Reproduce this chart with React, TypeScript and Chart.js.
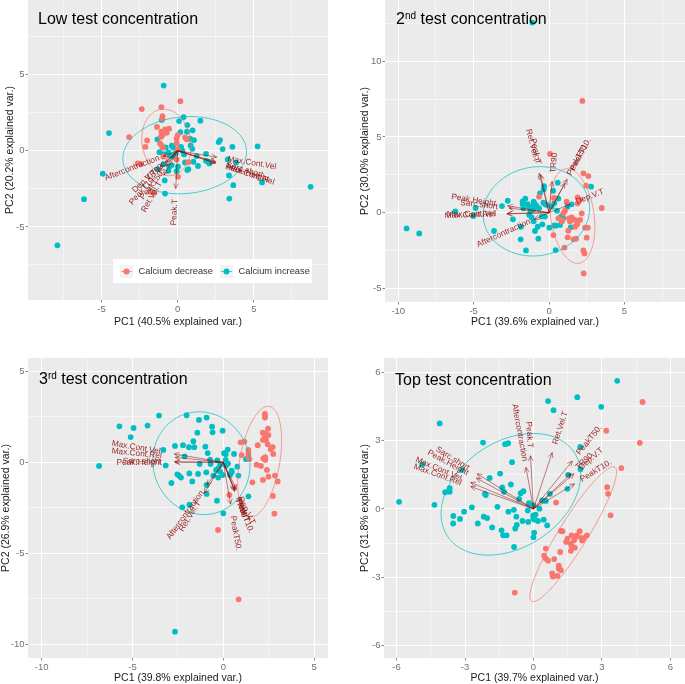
import React, { useEffect, useRef } from "react";
import { Chart, registerables } from "chart.js";

Chart.register(...registerables);

type Pair = [number, number];
type Arrow = [string, number, number];
type Ell = [number, number, number, number, number]; // cx, cy, semi-major, semi-minor, angle in degrees

const seriesNames = ["Calcium decrease", "Calcium increase"];
const RED = "#F8766D";
const TEAL = "#00BFC4";

// ---------- Low test concentration
const lowDecrease: Pair[] = [[0.18,3.25],[-2.36,2.74],[-1.07,2.87],[-1,2.28],[-1,2.08],[-1.36,1.56],[-0.83,1.4],[-0.57,1.45],[-1.07,1.25],[-0.72,1.18],[-3.19,0.9],[-1.09,0.92],[-1,1.03],[0,1.03],[-0.07,0.81],[0.48,0.88],[0.59,0.75],[-2.01,0.68],[-2.12,0.26],[-1.16,0.48],[-1.05,0.33],[-0.98,0.2],[-0.07,0.48],[0,0.09],[-0.07,-0.57],[0.7,-0.75],[-2.63,-0.83],[-2.43,-0.86],[0.02,-1.71],[-1.82,-2.68],[-1.64,-2.72],[-1.53,-2.76],[-0.94,-0.39]];
const lowIncrease: Pair[] = [[-0.92,4.28],[0.39,2.21],[1.49,1.97],[0.09,1.95],[-1.05,2.02],[0.63,1.69],[-4.51,1.16],[0.98,1.34],[0.18,1.23],[0.61,1.25],[-1.33,0.75],[0.81,0.79],[1.07,0.7],[2.78,0.7],[2.69,0.57],[3.59,0.26],[5.25,0.29],[2.95,0.11],[0.85,0.35],[0.96,0.13],[-0.39,0.33],[-0.79,0.22],[-0.28,0.2],[0.22,0.26],[0.31,0],[-1.2,-0.09],[-0.94,-0.22],[-0.61,-0.11],[-0.5,-0.29],[-0.39,-0.35],[-0.28,-0.39],[-0.13,-0.18],[0.42,-0.24],[1.25,-0.35],[1.86,-0.2],[1.86,-0.66],[2.01,-0.72],[2.08,-0.83],[0.48,-0.77],[1.03,-0.72],[3.28,-0.57],[3.83,-0.77],[1.33,-1],[-0.94,-0.88],[-1.33,-1.21],[-0.55,-1.05],[-0.39,-0.94],[0.02,-1.05],[-0.61,-1.32],[-0.07,-1.34],[0.63,-1.27],[0.7,-1.21],[3.37,-1.62],[-0.85,-1.95],[3.65,-2.26],[5.54,-2.08],[-0.83,-2.81],[3.39,-3.14],[8.73,-2.37],[-4.92,-1.51],[-6.15,-3.18],[-7.9,-6.21]];
const lowArrows: Arrow[] = [["Max.Cont.Vel",2.56,-0.42],["Max.Cont.Rel",2.5,-0.82],["Sarc.short",2.5,-0.72],["Peak.Height",2.45,-0.78],["Aftercontraction",-0.95,-0.36],["Dep.V.T",-1.15,-1.05],["TR90",-0.8,-0.75],["PeakT10.",-1.2,-1.35],["PeakT50.",-0.75,-1.0],["Ret.Vel.T",-0.9,-1.6],["Peak.T",-0.13,-2.48]];
const lowEllipses: Ell[] = [[-0.74,0.55,2.2,1.6,100],[0.46,-0.29,4.07,2.52,5]];
const lowXTicks = [-5, 0, 5];
const lowYTicks = [-5, 0, 5];

// ---------- 2nd test concentration
const secondDecrease: Pair[] = [[2.21,7.38],[0.07,3.88],[2.28,2.6],[2.61,2.42],[2.46,1.78],[-0.66,1.06],[0.33,0.97],[1.9,1.01],[2.04,0.84],[1.17,0.73],[3.5,0.31],[1.9,0.62],[1.06,0.13],[0.95,-0.04],[2.17,-0.04],[0.29,-1.48],[0.62,-0.37],[0.84,-0.59],[1.33,-0.37],[1.5,-0.31],[1.73,-0.48],[2.06,-0.48],[1.28,-1.19],[1.88,-0.75],[1.73,-0.93],[2.39,-0.99],[2.57,-0.99],[1.24,-1.63],[1.62,-1.76],[1.79,-1.72],[2.5,-1.65],[1.02,-2.31],[2.28,-2.49],[2.35,-2.69],[2.3,-4.01],[0.88,-0.48],[1.39,-0.59]];
const secondIncrease: Pair[] = [[-1.11,12.56],[-9.45,-1.04],[-8.61,-1.37],[-6.22,0.09],[-4.87,0.31],[-5.02,-0.22],[-3.65,-1.21],[-3.12,0.44],[-2.74,0.79],[-2.39,-0.44],[-1.86,-0.93],[-1.88,-1.76],[-1.53,-2.49],[-1.75,0.75],[-1.75,0.57],[-1.57,0.93],[-1.7,0.29],[-1.42,0.57],[-1.33,0.4],[-1.15,0.4],[-1.24,0.13],[-1.02,0.73],[-0.93,0.57],[-0.82,0.44],[-1.04,0.22],[-0.66,0.29],[-1.31,-0.15],[-1.15,-0.31],[-1.02,-0.57],[-0.93,-1.21],[-0.75,-0.93],[-0.71,-1.72],[-0.44,-0.77],[-0.33,1.76],[-0.35,1.54],[-0.6,1.28],[-0.38,0.66],[-0.27,0.57],[-0.15,0.51],[0.18,0.4],[0.35,0.62],[0.58,1.98],[0.27,1.45],[0.62,0.93],[-0.27,-0.26],[-0.49,-0.26],[0.02,-0.99],[0.35,-0.84],[0.44,-2.47],[0.53,0.13],[1.22,0.4],[1.5,0.55],[0.8,-0.26],[0.95,-0.37],[0.73,-0.81],[0.44,-0.86],[1.44,-0.97],[2.79,1.72]];
const secondArrows: Arrow[] = [["Ret.Vel.T",-0.65,2.6],["Peak.T",-0.55,2.5],["TR90",0.2,2.05],["PeakT10.",1.2,2.2],["PeakT50.",1.05,1.95],["Dep.V.T",1.4,0.55],["Peak.Height",-2.75,0.45],["Sarc.short",-2.65,0.3],["Max.Cont.Vel",-2.75,-0.05],["Max.Cont.Rel",-2.8,-0.08],["Aftercontraction",-0.98,-0.44]];
const secondEllipses: Ell[] = [[1.55,-0.22,3.15,1.44,98],[-0.84,0.09,3.55,2.93,10]];
const secondXTicks = [-10, -5, 0, 5];
const secondYTicks = [-5, 0, 5, 10];

// ---------- 3rd test concentration
const thirdDecrease: Pair[] = [[0.84,-7.54],[-0.29,-3.72],[2.81,-2.83],[2.73,-1.85],[0.33,-1.8],[1.6,-1.1],[2.99,-1.05],[2.84,-0.73],[2.18,-0.97],[2.48,-0.79],[2.4,-0.42],[1.83,-0.13],[2.07,-0.2],[2.31,0.13],[2.2,0.22],[2.31,0.29],[2.75,0.46],[0.95,1.1],[1.16,1.14],[1.01,0.4],[1.38,0.68],[1.38,0.5],[1.38,0.31],[1.43,0.18],[1.89,0.94],[2.61,0.72],[2.72,0.84],[2.44,0.99],[2.18,1.23],[2.35,1.23],[2.29,1.41],[2.48,1.5],[2.17,1.63],[2.33,1.58],[2.46,1.85],[2.29,2.66],[2.29,2.55],[2.29,2.46]];
const thirdIncrease: Pair[] = [[-6.84,-0.2],[-5.72,1.98],[-4.94,1.89],[-4.17,2.02],[-5.1,1.39],[-3.54,2.57],[-2.02,2.59],[-1.34,2.33],[-0.92,2.46],[-0.62,1.96],[-0.59,1.65],[-0.04,1.74],[-1.43,1.63],[-1.65,1.16],[-3.3,0.68],[-2.66,0.9],[-2.22,0.94],[-1.89,0.83],[-1.6,0.83],[-0.99,0.86],[-0.86,0.51],[-2.13,0.33],[-3.17,-0.17],[-1.3,-0.09],[-0.73,0.15],[-0.7,-0.09],[-0.33,0.11],[0.24,0.7],[0.04,0.5],[0.13,0.44],[0.59,0.46],[0.13,0.13],[0.26,-0.07],[0.15,-0.18],[0.77,-0.24],[-0.18,-0.15],[-0.28,-0.33],[-0.4,-0.42],[-0.18,-0.51],[0.46,-0.46],[0.46,-0.55],[-0.04,-0.7],[-0.28,-0.84],[0.37,-0.7],[0.83,-0.73],[-2.53,-0.66],[-2.44,-0.73],[-2.33,-0.84],[-2.86,-1.14],[-1.87,-0.61],[-1.39,-0.64],[-0.94,-0.55],[-1.71,-1.05],[-0.55,-0.73],[-0.92,-1.25],[-0.92,-1.74],[-0.35,-2.11],[-2.26,-2.48],[-1.87,-2.33],[0,-2.81],[1.38,-1.87],[1.25,0.17],[-2.66,-9.32]];
const thirdArrows: Arrow[] = [["Max.Cont.Vel",-2.7,0.46],["Max.Cont.Rel",-2.65,0.27],["Sarc.short",-2.7,0.03],["Peak.Height",-2.65,0],["Aftercontraction",-0.9,-1.25],["Ret.Vel.T",-1.05,-1.7],["PeakT50.",0.4,-2.3],["PeakT10.",0.64,-1.6],["Dep.V.T",0.72,-1.5],["TR90",0.6,-1.55],["Peak.T",0.62,-1.5]];
const thirdEllipses: Ell[] = [[2.0,0.04,3.08,1.1,80],[-1.21,-0.05,2.85,2.65,110]];
const thirdXTicks = [-10, -5, 0, 5];
const thirdYTicks = [-10, -5, 0, 5];

// ---------- Top test concentration
const topDecrease: Pair[] = [[4.78,4.69],[4.66,2.9],[3.19,3.43],[3.85,1.79],[3.23,0.95],[3.27,0.66],[3.38,-0.28],[0.99,0.28],[1.2,-0.97],[1.27,-0.98],[2.02,-0.98],[2.34,-1.16],[1.67,-1.16],[1.9,-1.16],[2.11,-1.27],[2.19,-1.3],[1.86,-1.23],[2.13,-1.39],[1.49,-1.3],[1.43,-1.45],[1.78,-1.38],[1.64,-1.54],[1.67,-1.63],[1.81,-1.7],[1.64,-1.84],[0.54,-1.74],[1.17,-1.89],[0.47,-2.05],[0.54,-2.18],[0.64,-2.27],[0.91,-2.2],[1.11,-2.49],[1.11,-2.62],[1.2,-2.69],[0.82,-2.83],[0.85,-2.97],[1.05,-2.94],[-0.82,-3.67]];
const topIncrease: Pair[] = [[3.67,5.62],[1.92,4.9],[0.64,4.73],[0.88,4.33],[2.97,4.48],[-4.11,3.75],[-2.21,2.91],[-1.24,2.84],[-1.11,2.88],[2.05,2.72],[-4.88,1.95],[-3.13,1.71],[-0.94,2.05],[2.06,1.74],[1.52,1.49],[1.49,0.88],[-1.46,1.55],[-1.92,1.36],[-0.99,1.07],[-1.37,0.94],[-1.29,0.75],[-3.67,0.91],[-3.67,0.75],[-3.87,0.73],[-2.13,0.66],[-2.09,0.61],[-0.44,0.78],[-0.56,0.69],[-0.63,0.44],[0.72,0.66],[0.38,0.37],[0.54,0.35],[-0.2,0.25],[-0.01,0.16],[0.26,0.01],[-5.89,0.31],[-4.34,0.18],[-2.7,0.07],[-1.58,0.09],[-3.04,-0.12],[-3.51,-0.31],[-3.22,-0.44],[-3.52,-0.64],[-2.18,-0.34],[-2.03,-0.4],[-2.44,-0.64],[-1.81,-0.81],[-1.1,-0.12],[-0.86,-0.04],[-0.75,-0.34],[-0.48,-0.53],[-0.23,-0.57],[-0.25,-0.07],[-0.01,-0.28],[0.09,-0.25],[-0.01,-0.42],[0.06,-0.47],[0.2,-0.53],[0.45,-0.47],[0.6,-0.72],[-0.73,-0.7],[-0.8,-0.86],[-1.4,-0.94],[-1.33,-1.16],[-1.18,-1.16],[0.03,-1.04],[0,-1.24],[-0.85,-1.67]];
const topArrows: Arrow[] = [["Aftercontraction",-0.33,1.82],["Peak.T",-0.13,2.33],["Ret.Vel.T",0.82,2.47],["PeakT50.",1.7,2.1],["TR90",1.65,1.55],["Dep.V.T",1.77,1.54],["PeakT10.",1.8,1.1],["Sarc.short",-2.47,1.54],["Peak.Height",-2.5,1.35],["Max.Cont.Vel",-2.75,1.16],["Max.Cont.Rel",-2.75,0.98]];
const topEllipses: Ell[] = [[1.74,-1.11,3.46,0.63,58.2],[-0.99,0.64,3.33,2.32,33.5]];
const topXTicks = [-6, -3, 0, 3, 6];
const topYTicks = [-6, -3, 0, 3, 6];

type Panel = {
  box: { left: number; top: number; width: number; height: number };
  pad: { top: number; right: number };
  yWidth: number; xHeight: number; yTitlePad: number; xTitlePad: number;
  xLim: Pair; yLim: Pair;
  xTicks: number[]; yTicks: number[];
  xTitle: string; yTitle: string;
  title: [string, string, string]; titleX: number; titleY: number;
  decrease: Pair[]; increase: Pair[]; arrows: Arrow[]; ellipses: Ell[]; adjust: number; legend?: boolean;
};

const panels: Panel[] = [
  { box: { left: 0, top: 0, width: 342, height: 330 }, pad: { top: 0, right: 14 }, yWidth: 28, xHeight: 30, yTitlePad: 4, xTitlePad: 2,
    xLim: [-9.83, 9.87], yLim: [-9.8, 9.9], xTicks: lowXTicks, yTicks: lowYTicks,
    xTitle: "PC1 (40.5% explained var.)", yTitle: "PC2 (20.2% explained var.)",
    title: ["Low test concentration", "", ""], titleX: 38, titleY: 20,
    decrease: lowDecrease, increase: lowIncrease, arrows: lowArrows, ellipses: lowEllipses, adjust: 1.28, legend: true },
  { box: { left: 343, top: 0, width: 342, height: 330 }, pad: { top: 0, right: 0 }, yWidth: 42, xHeight: 28, yTitlePad: 16, xTitlePad: 2,
    xLim: [-10.88, 9.02], yLim: [-5.9, 14.05], xTicks: secondXTicks, yTicks: secondYTicks,
    xTitle: "PC1 (39.6% explained var.)", yTitle: "PC2 (30.0% explained var.)",
    title: ["2", "nd", " test concentration"], titleX: 53, titleY: 20,
    decrease: secondDecrease, increase: secondIncrease, arrows: secondArrows, ellipses: secondEllipses, adjust: 1.28 },
  { box: { left: 0, top: 350, width: 342, height: 334 }, pad: { top: 8, right: 14 }, yWidth: 28, xHeight: 26, yTitlePad: 0, xTitlePad: 0,
    xLim: [-10.75, 5.76], yLim: [-10.77, 5.74], xTicks: thirdXTicks, yTicks: thirdYTicks,
    xTitle: "PC1 (39.8% explained var.)", yTitle: "PC2 (26.9% explained var.)",
    title: ["3", "rd", " test concentration"], titleX: 39, titleY: 30,
    decrease: thirdDecrease, increase: thirdIncrease, arrows: thirdArrows, ellipses: thirdEllipses, adjust: 1.28 },
  { box: { left: 343, top: 350, width: 342, height: 334 }, pad: { top: 8, right: 0 }, yWidth: 41, xHeight: 26, yTitlePad: 16, xTitlePad: 0,
    xLim: [-6.55, 6.64], yLim: [-6.54, 6.62], xTicks: topXTicks, yTicks: topYTicks,
    xTitle: "PC1 (39.7% explained var.)", yTitle: "PC2 (31.8% explained var.)",
    title: ["Top test concentration", "", ""], titleX: 52, titleY: 31,
    decrease: topDecrease, increase: topIncrease, arrows: topArrows, ellipses: topEllipses, adjust: 1.15 },
];

const FONT = '"Liberation Sans", Arial, sans-serif';
const toPts = (a: Pair[]) => a.map(([x, y]) => ({ x, y }));

function minorTicks(major: number[], lim: Pair) {
  const step = major[1] - major[0];
  const out: { value: number }[] = [];
  const first = major[0] - step / 2;
  const all: number[] = [];
  for (let i = -2; i < major.length + 2; i++) {
    const m = first + i * step;
    if (m >= lim[0] && m <= lim[1]) all.push(m);
  }
  major.forEach((m) => out.push({ value: m }));
  all.forEach((m) => out.push({ value: m }));
  return out.sort((a, b) => a.value - b.value);
}

function bandPlugin() {
  return {
    id: "band",
    beforeDraw(chart: any) {
      const { ctx, chartArea: a } = chart;
      ctx.save();
      ctx.fillStyle = "#EBEBEB";
      ctx.fillRect(a.left, a.top, a.right - a.left, a.bottom - a.top);
      ctx.restore();
    },
  };
}

function biplotPlugin(p: Panel) {
  return {
    id: "biplot",
    afterDatasetsDraw(chart: any) {
      const { ctx, scales, chartArea: area } = chart;
      const X = (v: number) => scales.x.getPixelForValue(v);
      const Y = (v: number) => scales.y.getPixelForValue(v);
      ctx.save();
      // normal-data ellipses
      p.ellipses.forEach(([cx, cy, a, b, deg], i) => {
        const th = (deg * Math.PI) / 180;
        ctx.beginPath();
        for (let d = 0; d <= 360; d += 3) {
          const t = (d * Math.PI) / 180;
          const ex = a * Math.cos(t);
          const ey = b * Math.sin(t);
          const px = X(cx + ex * Math.cos(th) - ey * Math.sin(th));
          const py = Y(cy + ex * Math.sin(th) + ey * Math.cos(th));
          if (d === 0) ctx.moveTo(px, py);
          else ctx.lineTo(px, py);
        }
        ctx.closePath();
        ctx.strokeStyle = i === 0 ? "rgba(248,118,109,0.7)" : "rgba(0,191,196,0.7)";
        ctx.lineWidth = 1;
        ctx.stroke();
      });
      // loading arrows
      ctx.strokeStyle = "rgba(139,0,0,0.55)";
      ctx.lineWidth = 0.9;
      const x0 = X(0);
      const y0 = Y(0);
      p.arrows.forEach(([, ax, ay]) => {
        const x1 = X(ax);
        const y1 = Y(ay);
        const ang = Math.atan2(y1 - y0, x1 - x0);
        ctx.beginPath();
        ctx.moveTo(x0, y0);
        ctx.lineTo(x1, y1);
        ctx.moveTo(x1 - 5.5 * Math.cos(ang - 0.45), y1 - 5.5 * Math.sin(ang - 0.45));
        ctx.lineTo(x1, y1);
        ctx.lineTo(x1 - 5.5 * Math.cos(ang + 0.45), y1 - 5.5 * Math.sin(ang + 0.45));
        ctx.stroke();
      });
      // loading labels
      ctx.fillStyle = "rgba(139,0,0,0.85)";
      ctx.font = `8.3px ${FONT}`;
      ctx.textBaseline = "middle";
      p.arrows.forEach(([name, ax, ay]) => {
        const lx = X(ax * p.adjust);
        const ly = Y(ay * p.adjust);
        let ang = Math.atan2(ly - y0, lx - x0);
        const right = ax >= 0;
        if (!right) ang += Math.PI;
        ctx.save();
        ctx.translate(lx, ly);
        ctx.rotate(ang);
        ctx.textAlign = right ? "left" : "right";
        ctx.fillText(name, 0, 0);
        ctx.restore();
      });
      // panel caption
      const [head, sup, tail] = p.title;
      ctx.fillStyle = "#000";
      ctx.textAlign = "left";
      ctx.textBaseline = "middle";
      let tx = p.titleX;
      const ty = p.titleY;
      ctx.font = `16px ${FONT}`;
      ctx.fillText(head, tx, ty);
      tx += ctx.measureText(head).width;
      if (sup) {
        ctx.font = `10px ${FONT}`;
        ctx.fillText(sup, tx, ty - 4);
        tx += ctx.measureText(sup).width;
        ctx.font = `16px ${FONT}`;
        ctx.fillText(tail, tx, ty);
      }
      // legend
      if (p.legend) {
        const left = area.left + 85;
        const top = area.top + 259;
        ctx.fillStyle = "#fff";
        ctx.fillRect(left, top, 199, 24);
        const keys = [left + 7, left + 107];
        seriesNames.forEach((name, i) => {
          const kx = keys[i];
          const ky = top + 6;
          const color = i === 0 ? RED : TEAL;
          ctx.fillStyle = "#F2F2F2";
          ctx.fillRect(kx, ky, 13, 13);
          ctx.strokeStyle = i === 0 ? "rgba(248,118,109,0.7)" : "rgba(0,191,196,0.7)";
          ctx.lineWidth = 1;
          ctx.beginPath();
          ctx.moveTo(kx + 1, ky + 6.5);
          ctx.lineTo(kx + 12, ky + 6.5);
          ctx.stroke();
          ctx.fillStyle = color;
          ctx.beginPath();
          ctx.arc(kx + 6.5, ky + 6.5, 3, 0, Math.PI * 2);
          ctx.fill();
          ctx.fillStyle = "#333";
          ctx.font = `9.3px ${FONT}`;
          ctx.textAlign = "left";
          ctx.fillText(name, kx + 18.5, ky + 6.5);
        });
      }
      ctx.restore();
    },
  };
}

function axis(lim: Pair, major: number[], title: string, titlePad: number, fit: (s: any) => void, vertical: boolean): any {
  return {
    type: "linear",
    min: lim[0],
    max: lim[1],
    afterBuildTicks(s: any) { s.ticks = minorTicks(major, lim); },
    afterFit(s: any) {
      fit(s);
      s.paddingTop = 0;
      s.paddingBottom = 0;
      s.paddingLeft = 0;
      s.paddingRight = 0;
    },
    border: { display: false },
    grid: {
      color: "#FFFFFF",
      lineWidth: (c: any) => (c.tick && major.includes(c.tick.value) ? 1 : 0.5),
      tickColor: (c: any) => (c.tick && major.includes(c.tick.value) ? "#8a8a8a" : "rgba(0,0,0,0)"),
      tickLength: 2.5,
    },
    ticks: {
      autoSkip: false,
      maxRotation: 0,
      minRotation: 0,
      padding: 1,
      color: "#707070",
      font: { family: FONT, size: 9.5 },
      callback: (v: number) => (major.includes(v) ? String(v) : ""),
    },
    title: { display: true, text: title, color: "#1a1a1a", font: { family: FONT, size: 10.5 }, padding: vertical ? { top: titlePad, bottom: 0 } : { top: 0, bottom: titlePad } },
  };
}

function PanelChart({ p }: { p: Panel }) {
  const ref = useRef<HTMLCanvasElement>(null);
  useEffect(() => {
    const chart = new Chart(ref.current as HTMLCanvasElement, {
      type: "scatter",
      data: {
        datasets: [
          { label: seriesNames[0], data: toPts(p.decrease), backgroundColor: RED, borderWidth: 0, pointRadius: 2.9 },
          { label: seriesNames[1], data: toPts(p.increase), backgroundColor: TEAL, borderWidth: 0, pointRadius: 2.9 },
        ],
      },
      options: {
        animation: false,
        responsive: false,
        layout: { autoPadding: false, padding: { left: 0, bottom: 0, top: p.pad.top, right: p.pad.right } },
        plugins: { legend: { display: false }, tooltip: { enabled: false } },
        scales: {
          x: axis(p.xLim, p.xTicks, p.xTitle, p.xTitlePad, (s: any) => { s.height = p.xHeight; }, false),
          y: axis(p.yLim, p.yTicks, p.yTitle, p.yTitlePad, (s: any) => { s.width = p.yWidth; }, true),
        },
      } as any,
      plugins: [bandPlugin(), biplotPlugin(p)] as any,
    });
    return () => chart.destroy();
  }, [p]);
  const { left, top, width, height } = p.box;
  return <canvas ref={ref} width={width} height={height} style={{ position: "absolute", left, top, width, height }} />;
}

export default function App() {
  return (
    <div style={{ position: "absolute", left: 0, top: 0, width: 685, height: 684, background: "#fff", overflow: "hidden" }}>
      {panels.map((p, i) => <PanelChart key={i} p={p} />)}
    </div>
  );
}
